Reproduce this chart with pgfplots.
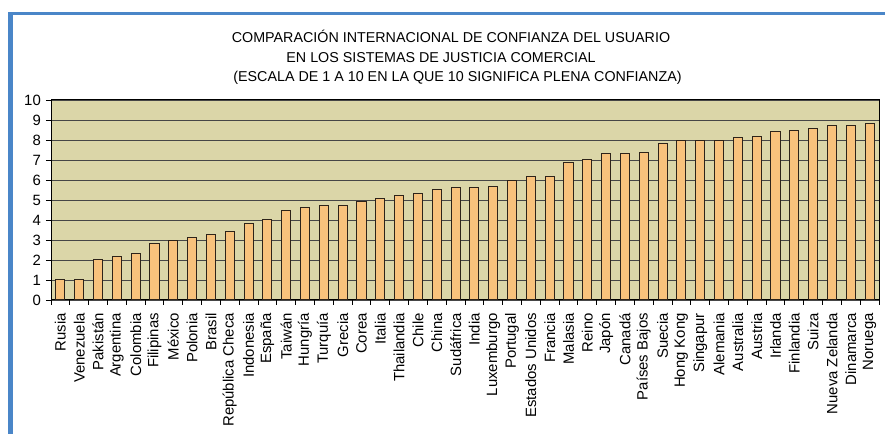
\documentclass[border=0pt]{standalone}
\usepackage{pgfplots}
\pgfplotsset{compat=1.18}
\usepackage{fontspec}
\setmainfont{Liberation Sans}
\definecolor{plotbg}{RGB}{219,214,168}
\definecolor{barfill}{RGB}{248,194,124}
\definecolor{baredge}{RGB}{45,35,25}
\definecolor{framebl}{RGB}{74,134,200}
\definecolor{gridc}{RGB}{70,70,70}
\pgfplotstableread{
idx val
0 1.00
1 1.00
2 2.00
3 2.17
4 2.32
5 2.84
6 2.98
7 3.14
8 3.28
9 3.43
10 3.81
11 4.03
12 4.48
13 4.63
14 4.70
15 4.70
16 4.92
17 5.08
18 5.23
19 5.30
20 5.54
21 5.60
22 5.60
23 5.67
24 5.97
25 6.19
26 6.19
27 6.86
28 7.02
29 7.31
30 7.31
31 7.39
32 7.84
33 7.98
34 7.98
35 7.98
36 8.13
37 8.19
38 8.43
39 8.49
40 8.58
41 8.73
42 8.73
43 8.81
}\datatable
\begin{document}
\begin{tikzpicture}
\fill[white] (0pt,0pt) rectangle (885pt,434pt);
\fill[framebl] (7.5pt,418.5pt) rectangle (885pt,422.3pt);
\fill[framebl] (7.5pt,0pt) rectangle (13.3pt,422.3pt);
\begin{axis}[
  at={(51pt,134pt)}, anchor=south west,
  scale only axis, width=828pt, height=200pt,
  xmin=-0.5, xmax=43.5, ymin=0, ymax=10,
  axis background/.style={fill=plotbg},
  axis line style={draw=black, line width=1pt},
  ytick={0,1,...,10},
  xtick={-0.5,0.5,...,43.5},
  xticklabels={},
  tick align=outside,
  major tick length=5pt,
  tick style={draw=black, line width=0.9pt},
  xtick pos=bottom, ytick pos=left,
  ymajorgrids, grid style={draw=gridc, line width=0.9pt},
  /pgf/number format/assume math mode=true,
  yticklabel style={font=\fontsize{14.9}{17}\selectfont, inner xsep=5pt},
  extra x ticks={0,1,...,43},
  extra x tick labels={Rusia,Venezuela,Pakistán,Argentina,Colombia,Filipinas,México,Polonia,Brasil,República Checa,Indonesia,España,Taiwán,Hungría,Turquía,Grecia,Corea,Italia,Thailandia,Chile,China,Sudáfrica,India,Luxemburgo,Portugal,Estados Unidos,Francia,Malasia,Reino,Japón,Canadá,Países Bajos,Suecia,Hong Kong,Singapur,Alemania,Australia,Austria,Irlanda,Finlandia,Suiza,Nueva Zelanda,Dinamarca,Noruega},
  extra x tick style={major tick length=0pt, tick style={draw=none}, grid=none,
    tick label style={rotate=90, anchor=east, inner xsep=13pt, inner ysep=0pt,
      font=\fontsize{14.9}{17}\selectfont}},
]
\addplot[ybar, bar width=0.48, fill=barfill, draw=baredge, line width=1pt] table[x=idx, y=val] {\datatable};
\end{axis}
\node[anchor=base, font=\fontsize{14.3}{16}\selectfont] at (451pt,391.3pt) {COMPARACIÓN INTERNACIONAL DE CONFIANZA DEL USUARIO};
\node[anchor=base, font=\fontsize{14.3}{16}\selectfont] at (441pt,371.7pt) {EN LOS SISTEMAS DE JUSTICIA COMERCIAL};
\node[anchor=base, font=\fontsize{14.3}{16}\selectfont] at (457.5pt,352.3pt) {(ESCALA DE 1 A 10 EN LA QUE 10 SIGNIFICA PLENA CONFIANZA)};
\end{tikzpicture}
\end{document}
